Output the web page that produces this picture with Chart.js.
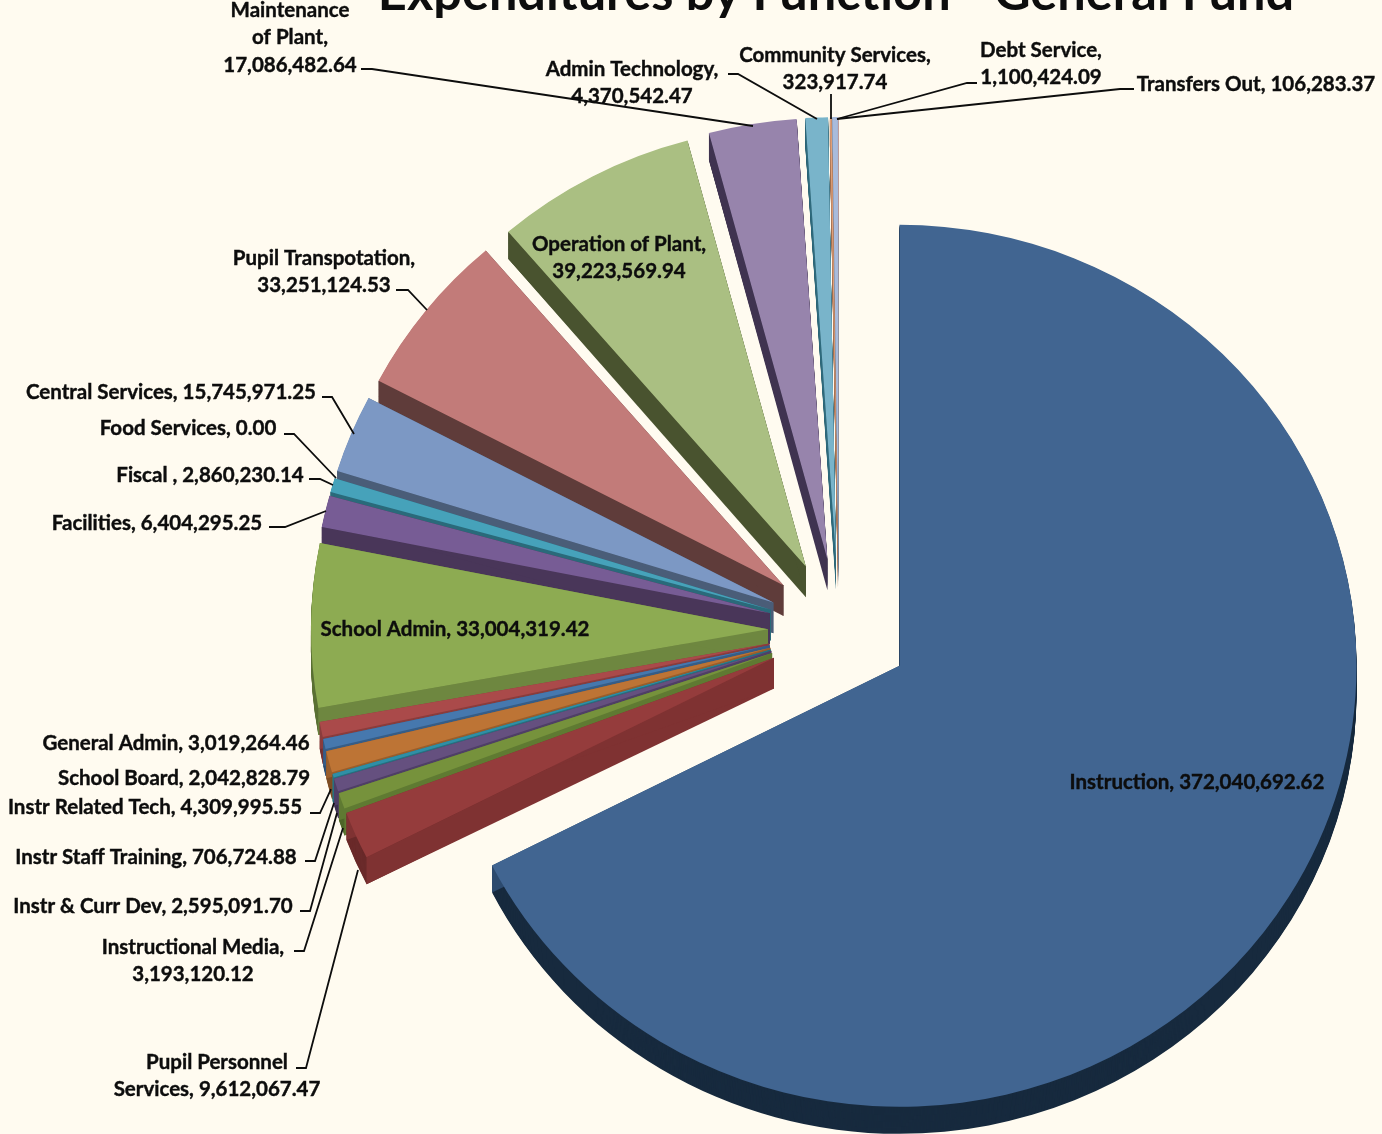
<!DOCTYPE html>
<html>
<head>
<meta charset="utf-8">
<title>Expenditures by Function - General Fund</title>
<script src="https://cdn.jsdelivr.net/npm/chart.js@4"></script>
<style>
    html, body { margin: 0; padding: 0; background: #fffbf0; overflow: hidden; }
    canvas { display: block; }
</style>
</head>
<body>
<canvas id="myChart" width="1382" height="1134"></canvas>
<script>
const chartTitle = 'Expenditures by Function - General Fund';

const categories = [
    'Instruction', 'Pupil Personnel\nServices', 'Instructional Media', 'Instr & Curr Dev',
    'Instr Staff Training', 'Instr Related Tech', 'School Board', 'General Admin',
    'School Admin', 'Facilities', 'Fiscal ', 'Food Services', 'Central Services',
    'Pupil Transpotation', 'Operation of Plant', 'Maintenance\nof Plant', 'Admin Technology',
    'Community Services', 'Debt Service', 'Transfers Out'
];

const values = [
    372040692.62, 9612067.47, 3193120.12, 2595091.70,
    706724.88, 4309995.55, 2042828.79, 3019264.46,
    33004319.42, 6404295.25, 2860230.14, 0.00, 15745971.25,
    33251124.53, 39223569.94, 17086482.64, 4370542.47,
    323917.74, 1100424.09, 106283.37
];

const topColors = [
    '#416591', '#953c3c', '#76923c', '#65507f', '#2f8fa6', '#bd7435', '#4678ae', '#aa4a4a',
    '#8dab52', '#775c95', '#46a2ba', '#c98a4a', '#7c98c4', '#c27b79', '#aabf82', '#9784ac',
    '#79b4ca', '#e0a07a', '#a9bbdb', '#e3bfbd'
];
const wallColors = [
    '#2c4a6e', '#7f3232', '#5f7a32', '#4f3f66', '#25707f', '#9a5e2b', '#365d87', '#8a3c3c',
    '#6e8740', '#493659', '#2a6a7a', '#9a5e2b', '#4a5d78', '#5f3c3a', '#49532f', '#3f3350',
    '#2e6a7c', '#b07a5a', '#7f8fa8', '#b09392'
];
const rimColors = [
    '#172a3e', '#6a2a2a', '#4f662a', '#3f3252', '#1e5a66', '#7f4e24', '#2c4c6e', '#733232',
    '#5c7136', '#3c2c4a', '#225664', '#7f4e24', '#3c4c62', '#4e3230', '#3c4427', '#332a42',
    '#255664', '#906448', '#687689', '#907878'
];

// label placement: cx = centre of the text, y = middle of the first line, nl = value on its own line
const labelLayout = [
    { cx: 1197, y: 781 },
    { cx: 217, y: 1061, leader: [[296, 1068], [306, 1068], [358, 870]] },
    { cx: 193, y: 946, nl: true, leader: [[294, 951], [304, 951], [343, 828]] },
    { cx: 153, y: 905, leader: [[300, 911], [310, 911], [337, 813]] },
    { cx: 156, y: 856, leader: [[305, 861], [315, 861], [334, 803]] },
    { cx: 155, y: 806, leader: [[310, 813], [320, 813], [331, 789]] },
    { cx: 184, y: 777 },
    { cx: 176, y: 742 },
    { cx: 455, y: 628 },
    { cx: 157, y: 522, leader: [[269, 527], [285, 527], [326, 511]] },
    { cx: 210, y: 474, leader: [[309, 479], [320, 479], [333, 485]] },
    { cx: 188, y: 427, leader: [[284, 434], [294, 434], [336, 478]] },
    { cx: 171, y: 391, leader: [[322, 397], [332, 397], [354, 434]] },
    { cx: 324, y: 257, nl: true, leader: [[396, 290], [408, 290], [427, 310]] },
    { cx: 619, y: 243, nl: true },
    { cx: 290, y: 9, nl: true, leader: [[361, 69], [372, 69], [753, 126]] },
    { cx: 632, y: 68, nl: true, leader: [[728, 74], [738, 74], [817, 119]] },
    { cx: 835, y: 54, nl: true, leader: [[831, 94], [831, 119]] },
    { cx: 1041, y: 49, nl: true, leader: [[977, 83], [967, 83], [837, 119]] },
    { cx: 1256, y: 83, leader: [[1134, 89], [1120, 89], [837, 119]] }
];

const explode = 71;     // every slice is pulled out of the centre by this much
const explodeUp = 1.05; // slices going up move a little further (perspective)
const depth = 28;       // height of the 3D side
const apexDepth = 32;   // sides look taller near the centre
const squash = 0.965;   // pie is a bit flatter than a circle
const labelFont = 'bold 20.5px Lato, "Open Sans", sans-serif';

function formatValue(v) {
    return v.toLocaleString('en-US', { minimumFractionDigits: 2, maximumFractionDigits: 2 });
}

function midAngleY(arc) {
    return Math.sin((arc.startAngle + arc.endAngle) / 2);
}

function explodeShift(arc) {
    const mid = (arc.startAngle + arc.endAngle) / 2;
    const dy = Math.sin(mid) * explode;
    return { dx: Math.cos(mid) * explode, dy: dy < 0 ? dy * explodeUp : dy };
}

function sectorPath(ctx, arc, dx, dy) {
    ctx.beginPath();
    ctx.moveTo(arc.x + dx, arc.y + dy);
    ctx.arc(arc.x + dx, arc.y + dy, arc.outerRadius, arc.startAngle, arc.endAngle);
    ctx.closePath();
}

// draws the slices as an exploded 3D pie, using the arcs Chart.js laid out
const pie3d = {
    id: 'pie3d',
    beforeDatasetDraw(chart, args) {
        const ctx = chart.ctx;
        const arcs = args.meta.data;
        const cx = arcs[0].x, cy = arcs[0].y;
        ctx.save();
        ctx.translate(cx, cy);
        ctx.scale(1, squash);
        ctx.translate(-cx, -cy);

        // sides go back to front, so the lower slices cover the ones behind
        const order = arcs.map((arc, i) => i)
            .filter(i => values[i] > 0)
            .sort((a, b) => midAngleY(arcs[a]) - midAngleY(arcs[b]));

        order.forEach(i => {
            const arc = arcs[i];
            const { dx, dy } = explodeShift(arc);
            // outer curved side
            ctx.fillStyle = rimColors[i];
            for (let d = depth; d > 0; d--) {
                sectorPath(ctx, arc, dx, dy + d);
                ctx.fill();
            }
            // the two cut faces
            ctx.fillStyle = wallColors[i];
            [arc.startAngle, arc.endAngle].forEach(a => {
                const ex = arc.x + dx + Math.cos(a) * arc.outerRadius;
                const ey = arc.y + dy + Math.sin(a) * arc.outerRadius;
                ctx.beginPath();
                ctx.moveTo(arc.x + dx, arc.y + dy);
                ctx.lineTo(ex, ey);
                ctx.lineTo(ex, ey + depth);
                ctx.lineTo(arc.x + dx, arc.y + dy + apexDepth);
                ctx.closePath();
                ctx.fill();
            });
        });

        arcs.forEach(arc => {
            const { dx, dy } = explodeShift(arc);
            ctx.save();
            ctx.translate(dx, dy);
            arc.draw(ctx);
            ctx.restore();
        });
        ctx.restore();
        return false;
    },
    afterDraw(chart) {
        const ctx = chart.ctx;
        ctx.save();
        ctx.fillStyle = '#0d0d0d';
        ctx.strokeStyle = '#0d0d0d';
        ctx.textAlign = 'center';

        ctx.textBaseline = 'alphabetic';
        ctx.font = 'bold 50.5px Lato, "Open Sans", sans-serif';
        ctx.fillText(chartTitle, 836, 10);

        ctx.font = labelFont;
        ctx.textBaseline = 'middle';
        labelLayout.forEach((lab, i) => {
            const text = categories[i] + ',' + (lab.nl ? '\n' : ' ') + formatValue(values[i]);
            text.split('\n').forEach((line, n) => {
                ctx.lineWidth = 0.4;
                ctx.fillText(line, lab.cx, lab.y + 1 + n * 27.5);
                ctx.strokeText(line, lab.cx, lab.y + 1 + n * 27.5);
            });
            if (lab.leader) {
                ctx.lineWidth = 1.8;
                ctx.beginPath();
                lab.leader.forEach((p, n) => n ? ctx.lineTo(p[0], p[1]) : ctx.moveTo(p[0], p[1]));
                ctx.stroke();
            }
        });
        ctx.restore();
    }
};

new Chart(document.getElementById('myChart'), {
    type: 'pie',
    data: {
        labels: categories,
        datasets: [{
            data: values,
            backgroundColor: topColors,
            borderWidth: 0,
            clip: false
        }]
    },
    options: {
        responsive: false,
        animation: false,
        events: [],
        radius: 457,
        layout: { padding: { left: 296, top: 126 } },
        plugins: {
            legend: { display: false },
            tooltip: { enabled: false }
        }
    },
    plugins: [pie3d]
});
</script>
</body>
</html>
